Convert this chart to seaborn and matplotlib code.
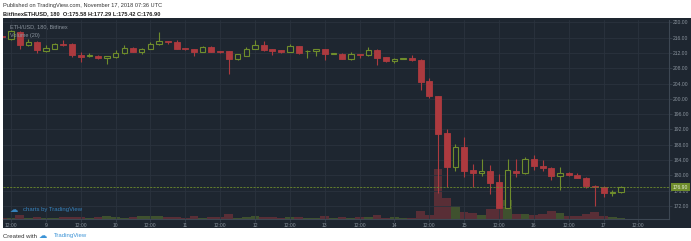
import matplotlib
matplotlib.use("Agg")
import matplotlib.pyplot as plt
from matplotlib.patches import Rectangle
import numpy as np
import pandas as pd
import seaborn as sns

# ---------------- data (ETH/USD, 3h candles, Bitfinex) ----------------
opens = [216.4, 215.6, 217.5, 214.0, 214.8, 212.5, 213.1, 214.3, 214.3, 211.5,
         211.1, 211.2, 210.8, 211.0, 212.0, 213.4, 212.3, 213.1, 214.2, 215.0,
         214.9, 213.3, 213.0, 212.3, 213.6, 212.5, 212.4, 210.3, 211.2, 213.0,
         214.0, 213.0, 212.7, 212.3, 213.7, 212.5, 212.5, 212.9, 211.7, 211.8,
         210.3, 211.7, 211.4, 212.7, 210.9, 209.8, 210.4, 210.6, 210.2, 204.6,
         200.7, 191.0, 182.3, 187.5, 181.4, 180.7, 181.1, 178.3, 171.6, 181.2,
         180.5, 184.2, 182.4, 182.0, 179.8, 180.7, 180.1, 179.4, 177.3, 177.0,
         175.3, 175.58]
highs = [216.6, 217.9, 217.7, 215.7, 215.0, 214.0, 214.6, 215.5, 214.5, 212.3,
         212.1, 211.4, 211.3, 212.7, 214.0, 213.6, 213.2, 214.9, 217.5, 215.1,
         215.5, 213.4, 213.1, 213.7, 213.7, 212.6, 212.5, 211.8, 213.6, 215.3,
         215.1, 213.1, 212.8, 214.3, 213.8, 212.7, 213.0, 213.0, 212.0, 211.9,
         212.3, 211.8, 213.6, 212.9, 211.0, 210.6, 210.6, 211.4, 210.4, 205.4,
         200.8, 192.0, 188.2, 190.1, 182.9, 184.4, 182.7, 180.3, 184.4, 184.4,
         184.7, 185.3, 184.0, 182.2, 182.2, 181.0, 180.6, 179.5, 177.4, 177.2,
         176.2, 177.29]
lows = [216.0, 215.3, 213.1, 213.8, 212.1, 212.3, 212.9, 213.9, 211.0, 209.6,
        211.0, 210.5, 209.2, 210.7, 211.8, 212.2, 211.8, 213.0, 214.1, 214.4,
        212.9, 212.8, 211.2, 212.2, 212.2, 212.0, 206.4, 210.1, 211.1, 212.9,
        212.6, 211.4, 212.0, 212.2, 211.8, 210.8, 211.1, 210.1, 211.6, 210.4,
        210.1, 210.7, 211.3, 208.9, 209.7, 209.3, 210.3, 210.0, 202.3, 200.3,
        175.3, 177.0, 181.2, 179.6, 177.0, 179.8, 175.1, 171.5, 171.4, 179.5,
        180.3, 181.4, 181.2, 178.8, 176.2, 179.9, 179.2, 176.6, 172.0, 174.4,
        174.6, 175.42]
closes = [216.1, 217.7, 214.0, 214.9, 212.7, 213.2, 214.3, 214.0, 211.5, 211.0,
          211.4, 210.8, 211.2, 212.1, 213.4, 212.3, 213.1, 214.3, 215.0, 214.8,
          213.1, 212.9, 212.3, 213.6, 212.3, 212.2, 210.3, 211.7, 213.0, 214.0,
          212.7, 212.4, 212.2, 213.7, 212.1, 212.6, 212.9, 211.7, 211.9, 210.5,
          211.7, 211.5, 212.7, 210.7, 209.9, 210.5, 210.6, 210.1, 204.4, 200.7,
          190.8, 182.3, 187.3, 181.1, 180.7, 181.2, 178.1, 171.6, 181.4, 180.5,
          184.2, 182.4, 181.8, 179.8, 180.7, 180.1, 179.4, 177.2, 177.0, 175.3,
          175.7, 176.90]
volumes = [1.0, 1.5, 4.0, 1.5, 2.3, 1.5, 1.5, 1.8, 2.3, 2.3,
           0.8, 1.6, 2.8, 2.2, 1.4, 2.0, 2.8, 3.0, 3.3, 1.8,
           2.3, 1.2, 2.6, 1.2, 2.4, 2.4, 5.0, 1.5, 2.0, 3.0,
           2.0, 2.3, 1.3, 2.0, 2.0, 1.5, 1.5, 3.0, 1.5, 2.0,
           1.5, 2.0, 2.4, 4.3, 1.5, 2.0, 1.5, 1.3, 8.0, 4.0,
           50.0, 21.0, 13.3, 7.3, 5.7, 4.0, 9.7, 9.7, 19.0, 5.0,
           5.0, 3.7, 5.0, 8.0, 6.3, 3.3, 3.3, 4.7, 7.3, 3.0,
           2.3, 1.3]  # thousands
first_index = -1          # candle index of first value (0 = Nov 8 12:00)
time_labels = ["12:00", "9", "12:00", "10", "12:00", "11", "12:00", "12", "12:00",
               "13", "12:00", "14", "12:00", "15", "12:00", "16", "12:00", "17", "12:00"]
time_label_step = 4       # candles between labels (3h candles -> 12h)
price_ticks = [172, 176, 180, 184, 188, 192, 196, 200, 204, 208, 212, 216, 220]
last_price = 176.90

# ---------------- styling ----------------
BG = "#1e2630"
GRID = "#2a333e"
BORDER = "#3d4753"
TXT = "#8a939d"
RED = "#ad3a3f"
GREEN = "#6f8d2c"
BLUE = "#3b93d6"

sns.set_theme(style="dark")
plt.rcParams["font.family"] = ["Liberation Sans", "DejaVu Sans"]

W, H = 691, 241
fig = plt.figure(figsize=(W / 100, H / 100), dpi=100, facecolor="white")

# dark panel
fig.add_artist(Rectangle((3 / W, (H - 228) / H), (W - 3) / W, (228 - 18) / H,
                         transform=fig.transFigure, facecolor=BG, edgecolor="none", zorder=0))

rect = [3 / W, (H - 219) / H, 666 / W, 199 / H]
axv = fig.add_axes(rect)
ax = axv.twinx()
ax.set_zorder(axv.get_zorder() + 1)
ax.patch.set_visible(False)
axv.set_facecolor(BG)

df = pd.DataFrame({
    "idx": np.arange(len(opens)) + first_index,
    "open": opens, "high": highs, "low": lows, "close": closes, "vol": volumes,
})
df["dir"] = np.where(df["close"] >= df["open"], "up", "down")

# volume bars (seaborn)
sns.barplot(data=df, x="idx", y="vol", hue="dir", palette={"up": GREEN, "down": RED},
            native_scale=True, dodge=False, width=1.0, errorbar=None, legend=False,
            saturation=1, alpha=0.42, linewidth=0, ax=axv)
axv.set_ylim(0, 199 * 1.0)
axv.set_yticks([])
axv.set_ylabel("")
axv.set_xlabel("")

# candles
up = df[df["dir"] == "up"]
dn = df[df["dir"] == "down"]
ax.vlines(up["idx"], up["low"], up["high"], color=GREEN, lw=0.8, zorder=2)
ax.vlines(dn["idx"], dn["low"], dn["high"], color=RED, lw=0.8, zorder=2)
ax.bar(dn["idx"], dn["close"] - dn["open"], bottom=dn["open"], width=0.68,
       color=RED, edgecolor=RED, linewidth=0.6, zorder=3)
ax.bar(up["idx"], up["close"] - up["open"], bottom=up["open"], width=0.62,
       color=BG, edgecolor=GREEN, linewidth=0.8, zorder=3)

# last price line
ax.axhline(last_price, color=GREEN, lw=0.6, ls=(0, (2.5, 1.5)), zorder=4)

# axes ranges (index units / price units)
x0 = (3 - 11) / 8.714
x1 = (669 - 11) / 8.714
ax.set_xlim(x0, x1)
axv.set_xlim(x0, x1)
ax.set_ylim(220 - (219 - 22.3) / 3.827, 220 + 2.3 / 3.827)

# grid
for p in price_ticks:
    ax.axhline(p, color=GRID, lw=0.6, zorder=0.5)
tick_pos = [i * time_label_step for i in range(len(time_labels))]
for t in tick_pos:
    ax.axvline(t, color=GRID, lw=0.6, zorder=0.5)

# ticks
ax.set_yticks(price_ticks)
ax.set_yticklabels([f"{p:.2f}" for p in price_ticks])
ax.tick_params(axis="y", right=True, length=2, width=0.5, color=BORDER, pad=1,
               labelsize=3.6, labelcolor=TXT)
axv.set_xticks(tick_pos)
axv.set_xticklabels(time_labels)
axv.tick_params(axis="x", bottom=True, length=2, width=0.5, color=BORDER, pad=1,
                labelsize=3.6, labelcolor=TXT)
ax.tick_params(axis="x", bottom=False, labelbottom=False)
for a in (ax, axv):
    for s in a.spines.values():
        s.set_visible(False)
ax.spines["right"].set_visible(True)
ax.spines["right"].set_color(BORDER)
ax.spines["right"].set_linewidth(0.8)
axv.spines["bottom"].set_visible(True)
axv.spines["bottom"].set_color(BORDER)
axv.spines["bottom"].set_linewidth(0.8)
ax.set_ylabel("")

# last price label on the axis
ax.annotate(f"{last_price:.2f}", xy=(1, last_price), xycoords=("axes fraction", "data"),
            xytext=(2.5, 0), textcoords="offset points", ha="left", va="center",
            fontsize=3.6, color="#e8eedd",
            bbox=dict(boxstyle="square,pad=0.35", facecolor=GREEN, edgecolor="none"),
            zorder=10, annotation_clip=False)

# legend texts in panel
ax.text(7 / 666, 1 - (27 - 20) / 199, "ETH/USD, 180, Bitfinex", transform=ax.transAxes,
        fontsize=4.0, color=TXT, va="center", ha="left")
ax.text(7 / 666, 1 - (35 - 20) / 199, "Volume (20)", transform=ax.transAxes,
        fontsize=4.0, color=TXT, va="center", ha="left")

# watermark
fig.text(10 / W, 1 - 209 / H, "\u2601", fontsize=6, color=BLUE, va="center", ha="left",
         family="DejaVu Sans", alpha=0.85)
fig.text(23 / W, 1 - 209 / H, "charts by TradingView", fontsize=4.3, color=BLUE,
         va="center", ha="left", alpha=0.85)

# header / footer
fig.text(3 / W, 1 - 5 / H, "Published on TradingView.com, November 17, 2018 07:36 UTC",
         fontsize=4.1, color="#333333", va="center", ha="left")
fig.text(3 / W, 1 - 13.5 / H, "BitfinexETHUSD, 180  O:175.58 H:177.29 L:175.42 C:176.90",
         fontsize=4.1, color="#222222", va="center", ha="left", fontweight="bold")
fig.text(3 / W, 1 - 236 / H, "Created with", fontsize=4.3, color="#333333",
         va="center", ha="left")
fig.text(39 / W, 1 - 236 / H, "\u2601", fontsize=6, color=BLUE, va="center", ha="left",
         family="DejaVu Sans")
fig.text(54 / W, 1 - 236 / H, "TradingView", fontsize=4.3, color=BLUE,
         va="center", ha="left")

fig.savefig("out.png", dpi=100, facecolor="white")
